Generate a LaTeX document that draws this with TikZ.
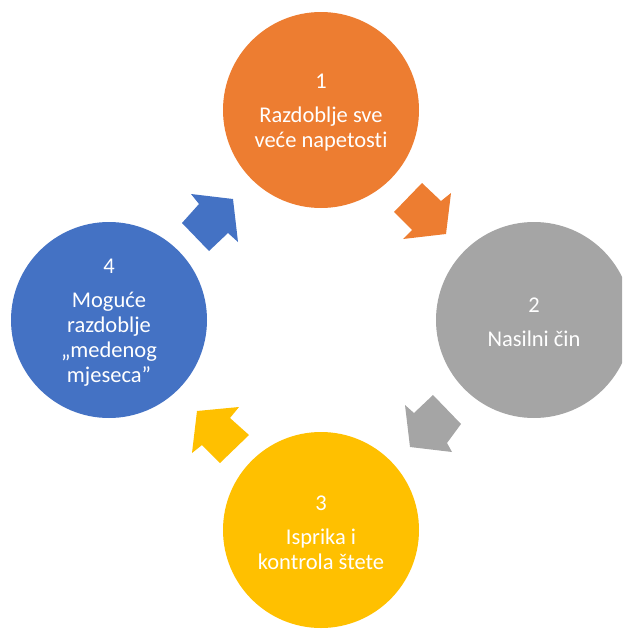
\documentclass[tikz,border=0pt]{standalone}
\usepackage{fontspec}
\setmainfont{Carlito}[Ligatures=NoCommon]
\definecolor{corange}{HTML}{ED7D31}
\definecolor{cgray}{HTML}{A5A5A5}
\definecolor{cyellow}{HTML}{FFC000}
\definecolor{cblue}{HTML}{4472C4}
\begin{document}
\begin{tikzpicture}[x=1pt,y=-1pt,
  stage/.style={circle, minimum size=196pt, inner sep=0pt},
  stagetext/.style={inner sep=0pt, text=white, align=center,
    font=\fontsize{22.5}{25}\selectfont},
  blockarrow/.style={draw=none}]
\useasboundingbox (0,0) rectangle (622,629);
\clip (0,0) rectangle (622,629);
\node[stage, fill=corange] (s1) at (321,110) {};
\node[stage, fill=cgray] (s2) at (534,320) {};
\node[stage, fill=cyellow] (s3) at (321,530) {};
\node[stage, fill=cblue] (s4) at (109,320) {};
\node[stagetext] (t1) at ([yshift=-3pt]s1.center) {1\\[9pt]Razdoblje sve\\veće napetosti};
\node[stagetext] (t2) at ([yshift=-2pt]s2.center) {2\\[9pt]Nasilni čin};
\node[stagetext] (t3) at ([yshift=-3pt]s3.center) {3\\[9pt]Isprika i\\kontrola štete};
\node[stagetext] (t4) at ([yshift=-3pt]s4.center) {4\\[9pt]Moguće\\razdoblje\\„medenog\\mjeseca”};
% block arrows
\fill[blockarrow, corange] (422,183) -- (441,201) -- (451,193) -- (446,234) -- (403,239) -- (412,230) -- (394,212) -- cycle;
\fill[blockarrow, cgray] (433,395) -- (461,424) -- (447,443) -- (452,452) -- (410,447) -- (405,405) -- (414,413) -- cycle;
\fill[blockarrow, cyellow] (197,411) -- (192,453) -- (202,445) -- (220,463) -- (249,435) -- (230,418) -- (239,407) -- cycle;
\fill[blockarrow, cblue] (233,199) -- (238,242) -- (228,233) -- (209,251) -- (182,223) -- (199,204) -- (191,194) -- cycle;
\end{tikzpicture}
\end{document}
